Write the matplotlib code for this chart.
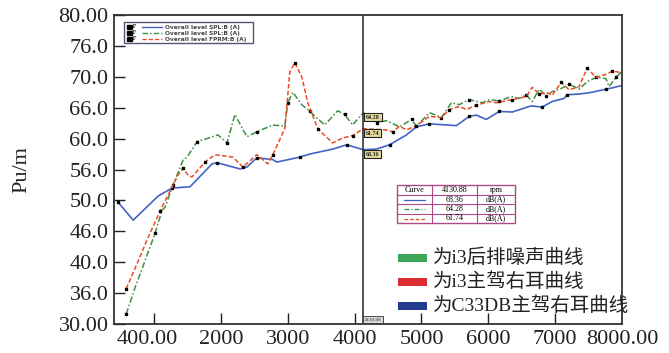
import numpy as np
import matplotlib.pyplot as plt
from matplotlib.patches import Rectangle
from matplotlib.lines import Line2D

plt.rcParams['font.family'] = ['Liberation Serif', 'Noto Sans CJK SC', 'DejaVu Sans']

# data (rpm, level)
blue_x = [463, 687, 1060, 1269, 1537, 1866, 1940, 2284, 2388, 2537, 2776, 2836, 3179, 3328, 3672, 3881,
          4130, 4328, 4522, 4776, 4925, 5119, 5239, 5522, 5716, 5821, 5970, 6164, 6358, 6642, 6806, 6955,
          7134, 7179, 7358, 7552, 7761, 7851, 8000]
blue_y = [49.7, 46.8, 50.7, 52.0, 52.2, 55.9, 56.1, 55.1, 55.4, 56.9, 56.6, 56.2, 57.0, 57.5, 58.3, 59.0,
          58.2, 58.3, 59.0, 60.6, 61.9, 62.4, 62.3, 62.1, 63.6, 63.8, 63.1, 64.4, 64.3, 65.3, 65.1, 66.0,
          66.5, 67.1, 67.2, 67.5, 68.0, 68.2, 68.6]

green_x = [582, 716, 866, 1015, 1119, 1164, 1284, 1433, 1493, 1642, 1791, 1955, 2090, 2209, 2388, 2537,
           2776, 2955, 3000, 3075, 3209, 3328, 3552, 3746, 3851, 3970, 4130, 4328, 4478, 4672, 4851, 4925,
           5119, 5299, 5448, 5567, 5716, 5910, 6015, 6164, 6343, 6463, 6567, 6657, 6761, 6866, 6955, 7090,
           7209, 7358, 7478, 7612, 7761, 7806, 7910, 8000]
green_y = [31.6, 35.9, 40.3, 44.7, 48.4, 48.9, 52.5, 56.5, 57.0, 59.5, 60.0, 60.6, 59.3, 63.9, 60.3, 61.1,
           62.2, 62.0, 65.8, 67.5, 65.5, 64.4, 62.2, 64.5, 63.9, 62.2, 64.2, 62.6, 62.9, 61.9, 63.1, 62.0,
           64.2, 63.4, 65.8, 65.5, 66.3, 65.8, 66.3, 66.1, 66.8, 66.5, 67.1, 66.0, 68.0, 66.9, 67.6, 68.1,
           68.8, 68.0, 69.2, 69.9, 69.7, 68.4, 69.9, 70.9]

red_x = [582, 746, 910, 1090, 1284, 1358, 1433, 1507, 1567, 1761, 1910, 2179, 2328, 2537, 2701, 2776,
         2955, 3030, 3104, 3209, 3299, 3448, 3672, 3821, 3970, 4130, 4478, 4567, 4672, 4776, 4925, 5119,
         5299, 5418, 5567, 5672, 5821, 6015, 6119, 6358, 6567, 6657, 6761, 6866, 6955, 7090, 7209, 7358,
         7478, 7612, 7761, 7851, 8000]
red_y = [35.7, 39.8, 44.0, 48.3, 52.5, 54.1, 55.2, 54.1, 53.8, 56.2, 57.4, 57.0, 55.4, 57.4, 55.9, 57.4,
         61.6, 70.7, 72.3, 70.0, 65.8, 61.6, 59.3, 60.1, 60.5, 61.6, 61.4, 61.1, 62.0, 61.4, 62.1, 63.6,
         63.4, 64.7, 65.2, 64.7, 65.4, 66.0, 65.8, 66.3, 66.8, 68.3, 67.2, 67.5, 67.0, 69.1, 67.9, 68.4,
         71.4, 69.9, 70.4, 70.9, 70.7]

cursor = 4130.88
cursor_vals = ['68.36', '64.28', '61.74']
yticks = [30, 35, 40, 45, 50, 55, 60, 65, 70, 75, 80]
ytick_labels = ['30.00', '36.0', '40.0', '46.0', '50.0', '56.0', '60.0', '66.0', '70.0', '76.0', '80.00']
xticks = [1000, 2000, 3000, 4000, 5000, 6000, 7000]
xtick_labels = ['', '2000', '3000', '4000', '5000', '6000', '7000']
legend_names = ['为i3后排噪声曲线', '为i3主驾右耳曲线', '为C33DB主驾右耳曲线']
legend_colors = ['#3da558', '#dc2e2e', '#223b8c']

c_blue, c_green, c_red = '#4463c9', '#3f8f45', '#ee4a22'

W, H = 669, 353
fig = plt.figure(figsize=(W / 100, H / 100), dpi=100)
ax = fig.add_axes([114 / W, 1 - 324 / H, (622 - 114) / W, (324 - 15) / H])


def fx(px):
    return px / W


def fy(py):
    return 1 - py / H


ax.plot(blue_x, blue_y, color=c_blue, lw=1.2, marker='s', ms=2.0, mfc='k', mec='k', markevery=3)
ax.plot(green_x, green_y, color=c_green, lw=1.1, ls=(0, (4, 1.5, 1, 1.5)), marker='s', ms=2.0,
        mfc='k', mec='k', markevery=3)
ax.plot(red_x, red_y, color=c_red, lw=1.1, ls=(0, (3, 1.5)), marker='s', ms=2.0, mfc='k', mec='k',
        markevery=3)

ax.set_xlim(400, 8000)
ax.set_ylim(30, 80)
ax.set_xticks(xticks)
ax.set_xticklabels(xtick_labels)
ax.set_yticks(yticks)
ax.set_yticklabels(ytick_labels)
ax.tick_params(direction='in', length=8, width=1, labelsize=16, colors='#222222')
ax.tick_params(axis='y', pad=4)
ax.tick_params(axis='x', pad=4)
for s in ax.spines.values():
    s.set_color('#333333')
    s.set_linewidth(1.3)

ax.text(893, -0.02, '400.00', transform=ax.get_xaxis_transform(), ha='center', va='top',
        fontsize=16, color='#222222')
ax.text(8000, -0.02, '8000.00', transform=ax.get_xaxis_transform(), ha='center', va='top',
        fontsize=16, color='#222222')
fig.text(fx(22), fy(170), 'Pu/m', rotation=90, ha='center', va='center', fontsize=16, color='#222222')

# cursor line and its labels
ax.axvline(cursor, color='#222222', lw=1.1)
ax.text(cursor + 20, 30.4, '4130.88', fontsize=3.6, ha='left', va='bottom', color='#333333',
        bbox=dict(boxstyle='square,pad=0.3', fc='#d8d8d8', ec='#333333', lw=0.6))
for xs, ys, v in [(green_x, green_y, cursor_vals[1]), (red_x, red_y, cursor_vals[2]),
                  (blue_x, blue_y, cursor_vals[0])]:
    yv = np.interp(cursor, xs, ys)
    ax.text(cursor + 40, yv - 0.7, v, fontsize=4.3, ha='left', va='center', color='#222222',
            fontweight='bold',
            bbox=dict(boxstyle='square,pad=0.3', fc='#e6dc9a', ec='#222222', lw=0.8))

# top-left legend box
fig.patches.append(Rectangle((fx(124), fy(43)), (253 - 124) / W, (43 - 22) / H, transform=fig.transFigure,
                             fc='white', ec='#55557a', lw=1.0, zorder=5))
for i, (c, ls, name) in enumerate([(c_blue, '-', 'Overall level SPL:B (A)'),
                                    (c_green, (0, (4, 1.5, 1, 1.5)), 'Overall level SPL:B (A)'),
                                    (c_red, (0, (3, 1.5)), 'Overall level FPRM:B (A)')]):
    py = 27 + i * 6
    fig.patches.append(Rectangle((fx(127), fy(py + 2.2)), 4.5 / W, 4.4 / H, transform=fig.transFigure,
                                 fc='k', ec='k', zorder=6))
    fig.text(fx(133), fy(py), 'F', fontsize=4, ha='left', va='center', zorder=6, fontweight='bold')
    fig.lines.append(Line2D([fx(142), fx(162)], [fy(py), fy(py)], transform=fig.transFigure,
                            color=c, ls=ls, lw=1.0, zorder=6))
    fig.text(fx(165), fy(py), name, fontsize=4.2, ha='left', va='center', zorder=6,
             fontweight='bold', color='#444444', family='DejaVu Sans')

# cursor value table
tc = '#b04a86'
fig.patches.append(Rectangle((fx(397), fy(223)), (515 - 397) / W, (223 - 185) / H,
                             transform=fig.transFigure, fc='white', ec=tc, lw=1.0, zorder=5))
for px in [432, 477]:
    fig.lines.append(Line2D([fx(px), fx(px)], [fy(185), fy(223)], transform=fig.transFigure,
                            color=tc, lw=0.8, zorder=6))
for py in [194.5, 204, 213.5]:
    fig.lines.append(Line2D([fx(397), fx(515)], [fy(py), fy(py)], transform=fig.transFigure,
                            color=tc, lw=0.8, zorder=6))
row_y = [190, 199.5, 209, 218.5]
fig.text(fx(414.5), fy(row_y[0]), 'Curve', fontsize=5.8, ha='center', va='center', zorder=7)
fig.text(fx(454.5), fy(row_y[0]), f'{cursor:.2f}', fontsize=5.8, ha='center', va='center', zorder=7)
fig.text(fx(496), fy(row_y[0]), 'rpm', fontsize=5.8, ha='center', va='center', zorder=7)
for i, (c, ls) in enumerate([(c_blue, '-'), (c_green, (0, (4, 1.5, 1, 1.5))), (c_red, (0, (3, 1.5)))]):
    py = row_y[i + 1]
    fig.lines.append(Line2D([fx(404), fx(425)], [fy(py), fy(py)], transform=fig.transFigure,
                            color=c, ls=ls, lw=0.9, zorder=7))
    fig.text(fx(454.5), fy(py), cursor_vals[i], fontsize=5.8, ha='center', va='center', zorder=7)
    fig.text(fx(496), fy(py), 'dB(A)', fontsize=5.8, ha='center', va='center', zorder=7)

# colour legend
for i, (name, c) in enumerate(zip(legend_names, legend_colors)):
    py = 258 + i * 24
    fig.patches.append(Rectangle((fx(398), fy(py + 4)), 29 / W, 8 / H, transform=fig.transFigure,
                                 fc=c, ec='none', zorder=6))
    fig.text(fx(433), fy(py), name, fontsize=14, ha='left', va='center', zorder=7, color='#222222')

fig.savefig('out.png', dpi=100)
